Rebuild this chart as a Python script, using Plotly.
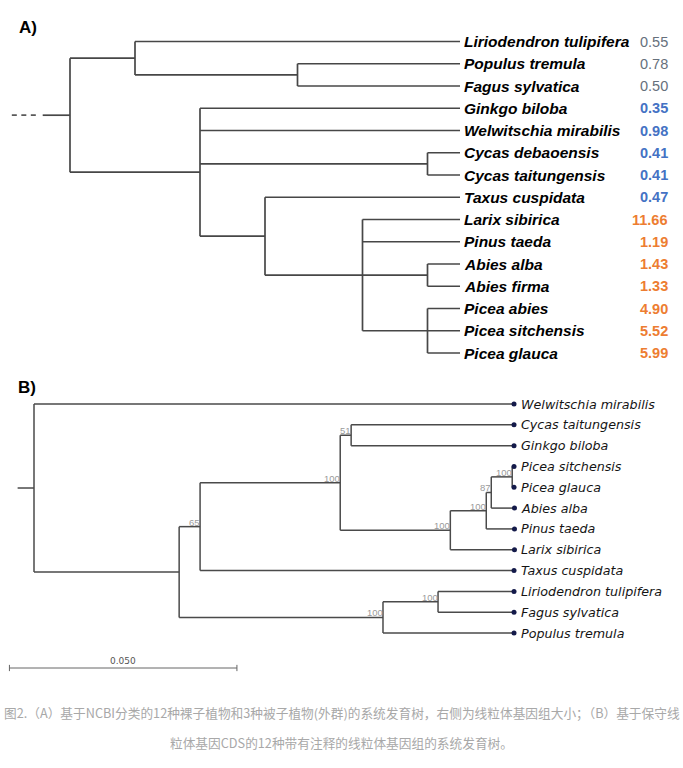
import plotly.graph_objects as go

# ---- A) NCBI taxonomy tree (cladogram) + mitochondrial genome size (Mb) ----
leaves_a = ["Liriodendron tulipifera", "Populus tremula", "Fagus sylvatica",
            "Ginkgo biloba", "Welwitschia mirabilis", "Cycas debaoensis",
            "Cycas taitungensis", "Taxus cuspidata", "Larix sibirica",
            "Pinus taeda", "Abies alba", "Abies firma", "Picea abies",
            "Picea sitchensis", "Picea glauca"]
mito_size_a = ["0.55", "0.78", "0.50", "0.35", "0.98", "0.41", "0.41", "0.47",
               "11.66", "1.19", "1.43", "1.33", "4.90", "5.52", "5.99"]
group_a = ["angiosperm"] * 3 + ["gymnosperm"] * 5 + ["pinaceae"] * 7

clades_a = {
    "root": ["angio", "gymno"],
    "angio": ["Liriodendron tulipifera", "fagales"],
    "fagales": ["Populus tremula", "Fagus sylvatica"],
    "gymno": ["Ginkgo biloba", "Welwitschia mirabilis", "cycas", "conifers"],
    "cycas": ["Cycas debaoensis", "Cycas taitungensis"],
    "conifers": ["Taxus cuspidata", "pinaceae"],
    "pinaceae": ["Larix sibirica", "Pinus taeda", "abies", "picea"],
    "abies": ["Abies alba", "Abies firma"],
    "picea": ["Picea abies", "Picea sitchensis", "Picea glauca"],
}
# node depth on the cladogram grid (tips sit at 12)
depth_a = {"root": 0, "angio": 2, "fagales": 7, "gymno": 4, "cycas": 11,
           "conifers": 6, "pinaceae": 9, "abies": 11, "picea": 11}
tip_depth_a = 12

# ---- B) mitochondrial CDS tree with bootstrap support ----
leaves_b = ["Welwitschia mirabilis", "Cycas taitungensis", "Ginkgo biloba",
            "Picea sitchensis", "Picea glauca", "Abies alba", "Pinus taeda",
            "Larix sibirica", "Taxus cuspidata", "Liriodendron tulipifera",
            "Fagus sylvatica", "Populus tremula"]
clades_b = {
    "root": ["Welwitschia mirabilis", "n1"],
    "n1": ["n65", "angio"],
    "n65": ["n100a", "Taxus cuspidata"],
    "n100a": ["n51", "pinaceae"],
    "n51": ["Cycas taitungensis", "Ginkgo biloba"],
    "pinaceae": ["n100c", "Larix sibirica"],
    "n100c": ["n87", "Pinus taeda"],
    "n87": ["picea", "Abies alba"],
    "picea": ["Picea sitchensis", "Picea glauca"],
    "angio": ["lf", "Populus tremula"],
    "lf": ["Liriodendron tulipifera", "Fagus sylvatica"],
}
# branch length to parent (substitutions/site)
branch_b = {
    "Welwitschia mirabilis": 0.1055, "n1": 0.0319, "n65": 0.0046,
    "Taxus cuspidata": 0.0690, "n100a": 0.0308, "n51": 0.0024,
    "Cycas taitungensis": 0.0358, "Ginkgo biloba": 0.0358,
    "pinaceae": 0.0242, "Larix sibirica": 0.0141, "n100c": 0.0079,
    "Pinus taeda": 0.0062, "n87": 0.0011, "Abies alba": 0.0051,
    "picea": 0.0046, "Picea sitchensis": 0.0004, "Picea glauca": 0.0004,
    "angio": 0.0448, "Populus tremula": 0.0288, "lf": 0.0121,
    "Liriodendron tulipifera": 0.0167, "Fagus sylvatica": 0.0167,
}
bootstrap_b = {"n65": 65, "n100a": 100, "n51": 51, "pinaceae": 100,
               "n100c": 100, "n87": 87, "picea": 100, "angio": 100, "lf": 100}
scale_len = 0.05

caption = ["图2.（A）基于NCBI分类的12种裸子植物和3种被子植物(外群)的系统发育树，右侧为线粒体基因组大小；（B）基于保守线",
           "粒体基因CDS的12种带有注释的线粒体基因组的系统发育树。"]

size_colors = {"angiosperm": "#66707c", "gymnosperm": "#4472c4", "pinaceae": "#ed7d31"}


def node_y(clades, leaves):
    y = {leaf: i for i, leaf in enumerate(leaves)}

    def get(n):
        if n not in y:
            ys = [get(c) for c in clades[n]]
            y[n] = (min(ys) + max(ys)) / 2
        return y[n]
    get("root")
    return y


def segments(clades, x, y):
    xs, ys = [], []
    for node, kids in clades.items():
        ky = [y[k] for k in kids]
        xs += [x[node], x[node], None]
        ys += [min(ky), max(ky), None]
        for k in kids:
            xs += [x[node], x[k], None]
            ys += [y[k], y[k], None]
    return xs, ys


# positions for tree A
xa = dict(depth_a)
for leaf in leaves_a:
    xa[leaf] = tip_depth_a
ya = node_y(clades_a, leaves_a)

# positions for tree B (cumulative branch length)
xb = {"root": 0.0}


def walk(n):
    for c in clades_b.get(n, []):
        xb[c] = xb[n] + branch_b[c]
        walk(c)


walk("root")
yb = node_y(clades_b, leaves_b)

fig = go.Figure()

# tree A
sx, sy = segments(clades_a, xa, ya)
fig.add_trace(go.Scatter(x=sx, y=sy, mode="lines", line=dict(color="#474747", width=1.7),
                         xaxis="x", yaxis="y", hoverinfo="skip"))
fig.add_trace(go.Scatter(x=[-0.84, 0], y=[ya["root"]] * 2, mode="lines",
                         line=dict(color="#474747", width=1.7), xaxis="x", yaxis="y"))
fig.add_trace(go.Scatter(x=[-1.79, -1.02], y=[ya["root"]] * 2, mode="lines",
                         line=dict(color="#5a5a5a", width=1.7, dash="5px,4.5px"), xaxis="x", yaxis="y"))

# tree B
sx, sy = segments(clades_b, xb, yb)
fig.add_trace(go.Scatter(x=sx, y=sy, mode="lines", line=dict(color="#4a4a4a", width=1.5),
                         xaxis="x2", yaxis="y2", hoverinfo="skip"))
fig.add_trace(go.Scatter(x=[-0.0036, 0], y=[yb["root"]] * 2, mode="lines",
                         line=dict(color="#4a4a4a", width=1.5), xaxis="x2", yaxis="y2"))
fig.add_trace(go.Scatter(x=[xb[l] for l in leaves_b], y=[yb[l] for l in leaves_b], mode="markers",
                         marker=dict(color="#141a4a", size=5), xaxis="x2", yaxis="y2"))

# scale bar
sb_x0 = -0.0054
sb_y = 12.68
fig.add_trace(go.Scatter(x=[sb_x0, sb_x0 + scale_len, None, sb_x0, sb_x0, None,
                            sb_x0 + scale_len, sb_x0 + scale_len],
                         y=[sb_y, sb_y, None, sb_y - 0.15, sb_y + 0.15, None, sb_y - 0.15, sb_y + 0.15],
                         mode="lines", line=dict(color="#666666", width=1), xaxis="x2", yaxis="y2"))

ann = []
for i, name in enumerate(leaves_a):
    ann.append(dict(x=xa[name], y=ya[name], xref="x", yref="y", text=name, showarrow=False,
                    xanchor="left", yanchor="middle", xshift=2,
                    font=dict(family="Liberation Sans", size=15.5, color="black",
                              weight=700, style="italic")))
    bold = group_a[i] != "angiosperm"
    ann.append(dict(x=670 / 683, y=ya[name], xref="paper", yref="y", text=mito_size_a[i],
                    showarrow=False, xanchor="right", yanchor="middle",
                    font=dict(family="Liberation Sans", size=14.5, color=size_colors[group_a[i]],
                              weight=700 if bold else 400)))

for name in leaves_b:
    ann.append(dict(x=xb[name], y=yb[name], xref="x2", yref="y2", text=name, showarrow=False,
                    xanchor="left", yanchor="middle", xshift=5,
                    font=dict(family="DejaVu Sans", size=12.7, color="#141414", style="italic")))

for node, bs in bootstrap_b.items():
    ann.append(dict(x=xb[node], y=yb[node], xref="x2", yref="y2", text=str(bs), showarrow=False,
                    xanchor="right", yanchor="bottom", xshift=1, yshift=-2, borderpad=0,
                    font=dict(family="Liberation Sans", size=9.5, color="#9a9a9a")))

ann.append(dict(x=sb_x0 + scale_len / 2, y=sb_y, xref="x2", yref="y2", text="%.3f" % scale_len,
                showarrow=False, xanchor="center", yanchor="bottom", yshift=0,
                font=dict(family="DejaVu Sans", size=9, color="#555555")))

ann.append(dict(x=17 / 683, y=1 - 27 / 768, xref="paper", yref="paper", text="<b>A)</b>",
                showarrow=False, xanchor="left", yanchor="middle",
                font=dict(family="Liberation Sans", size=17, color="black")))
ann.append(dict(x=16 / 683, y=1 - 387 / 768, xref="paper", yref="paper", text="<b>B)</b>",
                showarrow=False, xanchor="left", yanchor="middle",
                font=dict(family="Liberation Sans", size=17, color="black")))

ann.append(dict(x=342 / 683, y=1 - 712 / 768, xref="paper", yref="paper", text=caption[0],
                showarrow=False, xanchor="center", yanchor="middle",
                font=dict(family="Noto Sans CJK SC", size=12.7, color="#a8a8a8")))
ann.append(dict(x=341 / 683, y=1 - 742 / 768, xref="paper", yref="paper", text=caption[1],
                showarrow=False, xanchor="center", yanchor="middle",
                font=dict(family="Noto Sans CJK SC", size=12.7, color="#a8a8a8")))

hidden = dict(visible=False, fixedrange=True)
fig.update_layout(
    width=683, height=768,
    margin=dict(l=0, r=0, t=0, b=0),
    paper_bgcolor="white", plot_bgcolor="white",
    showlegend=False,
    xaxis=dict(domain=[0, 1], range=[-70 / 32.5, 613 / 32.5], anchor="y", **hidden),
    yaxis=dict(domain=[0.5, 1], range=[(384 - 41.5) / 22.25, -41.5 / 22.25], anchor="x", **hidden),
    xaxis2=dict(domain=[0, 1], range=[-34 / 4550, 649 / 4550], anchor="y2", **hidden),
    yaxis2=dict(domain=[0, 0.5], range=[(768 - 404) / 20.82, (384 - 404) / 20.82], anchor="x2", **hidden),
    annotations=ann,
)

fig.write_html("out.html", config={"displayModeBar": False},
               post_script="document.body.style.margin='0';document.body.style.overflow='hidden';")
